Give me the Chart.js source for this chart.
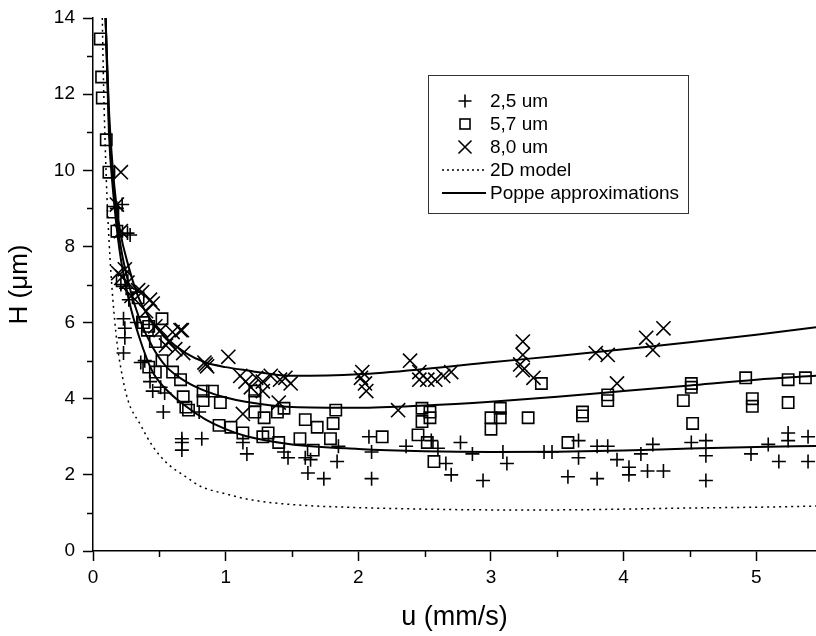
<!DOCTYPE html>
<html><head><meta charset="utf-8">
<script src="https://cdn.jsdelivr.net/npm/chart.js@4/dist/chart.umd.min.js"></script>
<style>html,body{margin:0;padding:0;background:#fff}canvas{display:block}</style>
</head><body>
<canvas id="c" width="816" height="636"></canvas>
<script>
// ---- data ----
const s25U = [0.18,0.22,0.26,0.28,0.21,0.25,0.27,0.23,0.24,0.24,0.23,0.33,0.36,0.39,0.43,0.45,0.51,0.54,0.53,0.67,0.67,0.67,0.82,0.80,1.13,1.16,1.44,1.47,1.60,1.64,1.62,1.74,1.84,1.85,2.08,2.10,2.10,2.36,2.55,2.60,2.66,2.70,2.77,2.86,2.94,3.09,3.12,3.40,3.46,3.66,3.66,3.58,3.80,3.80,3.88,3.95,4.04,4.04,4.13,4.18,4.22,4.30,4.51,4.62,4.62,4.62,4.96,5.09,5.17,5.24,5.24,5.39,5.39];
const s25H = [9.0,9.1,8.35,8.3,7.0,6.9,6.6,6.1,5.85,5.6,5.2,6.0,4.95,5.0,4.45,4.2,4.3,4.15,3.65,2.95,2.85,2.65,2.95,3.65,2.85,2.55,2.6,2.45,2.45,2.4,2.05,1.9,2.35,2.75,3.0,2.6,1.9,2.75,2.9,2.7,2.3,2.0,2.85,2.55,1.85,2.6,2.3,2.6,2.6,2.9,2.45,1.95,2.75,1.9,2.75,2.4,2.2,2.0,2.55,2.1,2.8,2.1,2.85,2.9,2.5,1.85,2.55,2.8,2.35,3.1,2.9,3.0,2.35];

const s57U = [0.055,0.065,0.07,0.10,0.12,0.15,0.18,0.22,0.34,0.38,0.41,0.42,0.52,0.47,0.52,0.42,0.47,0.60,0.66,0.68,0.72,0.70,0.83,0.90,0.83,0.96,0.95,1.04,1.22,1.22,1.22,1.29,1.13,1.32,1.28,1.40,1.44,1.39,1.56,1.60,1.69,1.66,1.79,1.83,1.81,2.18,2.48,2.54,2.54,2.48,2.45,2.52,2.57,3.07,3.07,3.00,3.00,3.28,3.38,3.69,3.69,3.88,3.88,3.58,4.51,4.51,4.45,4.52,4.92,4.97,4.97,5.24,5.24,5.37];
const s57H = [13.45,12.45,11.9,10.8,9.95,8.9,8.4,7.1,6.65,6.0,5.8,5.9,6.1,5.5,5.0,4.83,4.7,4.7,4.5,4.05,3.7,3.78,4.2,4.2,3.95,3.9,3.3,3.25,4.2,3.95,3.65,3.5,3.1,3.1,3.0,2.85,3.75,3.65,2.95,3.45,3.25,2.65,2.95,3.7,3.35,3.0,3.75,3.65,3.5,3.4,3.05,2.85,2.35,3.75,3.5,3.5,3.2,3.5,4.4,3.65,3.55,4.1,3.95,2.85,4.4,4.3,3.95,3.35,4.55,4.0,3.8,4.5,3.9,4.55];

const s80U = [0.21,0.18,0.21,0.19,0.24,0.22,0.26,0.29,0.34,0.37,0.43,0.45,0.40,0.47,0.51,0.57,0.60,0.66,0.67,0.55,0.62,0.68,0.84,0.85,0.86,1.02,1.11,1.15,1.19,1.23,1.28,1.28,1.34,1.41,1.45,1.49,1.40,1.13,2.02,2.03,2.05,2.06,2.39,2.46,2.46,2.52,2.58,2.64,2.70,2.30,3.22,3.24,3.24,3.24,3.32,3.79,3.88,3.95,4.17,4.22,4.30];
const s80H = [9.95,9.1,8.4,7.3,7.4,7.2,7.05,6.7,6.85,6.8,6.6,6.5,6.3,5.9,5.8,5.5,5.75,5.8,5.8,5.4,5.3,5.2,4.95,4.9,4.85,5.1,4.6,4.45,4.3,4.55,4.45,4.2,4.6,4.5,4.55,4.4,3.9,3.6,4.55,4.7,4.4,4.2,5.0,4.7,4.5,4.5,4.5,4.6,4.7,3.7,4.9,5.5,5.15,4.75,4.55,5.2,5.15,4.4,5.6,5.28,5.85];

const curveU  = [0.095,0.12,0.15,0.2,0.27,0.35,0.45,0.55,0.7,0.85,1.0,1.15,1.5,2.0,2.5,3.0,3.5,4.0,4.5,5.0,5.45];
const poppe80 = [14,11.6,10.0,8.5,7.45,6.6,6.0,5.6,5.2,4.95,4.83,4.75,4.6,4.64,4.78,4.96,5.12,5.3,5.48,5.68,5.88];
const poppe57 = [14,11.3,9.8,8.2,7.0,6.1,5.35,4.85,4.45,4.2,4.03,3.92,3.78,3.76,3.82,3.92,4.05,4.2,4.35,4.5,4.6];
const poppe25 = [14,11.0,9.5,7.9,6.6,5.6,4.7,4.25,3.8,3.45,3.2,3.02,2.8,2.68,2.62,2.6,2.61,2.64,2.69,2.73,2.76];

const model2dU = [0.07,0.08,0.1,0.12,0.15,0.18,0.21,0.26,0.36,0.45,0.56,0.7,0.81,1.0,1.2,1.5,2.0,2.5,3.0,3.5,4.0,4.5,5.0,5.45];
const model2dH = [14,12.2,9.8,8.2,6.6,5.5,4.8,4.0,3.3,2.75,2.3,1.95,1.7,1.5,1.34,1.22,1.14,1.1,1.08,1.08,1.1,1.13,1.15,1.18];

const legendLabels = ['2,5 um','5,7 um','8,0 um','2D model','Poppe approximations'];
const xTitle = 'u (mm/s)';
const yTitle = 'H (\u03BCm)';

// ---- build ----
const pts = (xs, ys) => xs.map((x, i) => ({x, y: ys[i]}));
const FONT = '"Liberation Sans", Arial, sans-serif';

const markerDs = (label, xs, ys, style, r) => ({
  label, data: pts(xs, ys), showLine: false,
  pointStyle: style, pointRadius: r, pointHoverRadius: r,
  borderColor: '#000', backgroundColor: 'rgba(0,0,0,0)', pointBorderWidth: 1.6
});
const lineDs = (label, xs, ys, dash, w) => ({
  label, data: pts(xs, ys), showLine: true, pointRadius: 0,
  borderColor: '#000', borderWidth: w, borderDash: dash, fill: false,
  cubicInterpolationMode: 'monotone'
});

const minorTicks = {
  id: 'minorTicks',
  afterDraw(chart) {
    const ctx = chart.ctx, xs = chart.scales.x, ys = chart.scales.y;
    ctx.save();
    ctx.strokeStyle = '#000'; ctx.lineWidth = 1.5;
    xs.ticks.forEach(t => {
      if (Math.abs(t.value % 1) > 1e-6) {
        const p = Math.round(xs.getPixelForValue(t.value)) + 0.5;
        ctx.beginPath(); ctx.moveTo(p, ys.bottom); ctx.lineTo(p, ys.bottom + 6); ctx.stroke();
      }
    });
    ys.ticks.forEach(t => {
      if (Math.abs(t.value % 2) > 1e-6) {
        const p = Math.round(ys.getPixelForValue(t.value)) + 0.5;
        ctx.beginPath(); ctx.moveTo(xs.left, p); ctx.lineTo(xs.left - 6, p); ctx.stroke();
      }
    });
    ctx.restore();
  }
};

const boxLegend = {
  id: 'boxLegend',
  afterDraw(chart) {
    const ctx = chart.ctx;
    ctx.save();
    ctx.strokeStyle = '#333'; ctx.lineWidth = 1;
    ctx.strokeRect(428.5, 75.5, 260, 138);
    ctx.font = '19px ' + FONT; ctx.fillStyle = '#000'; ctx.textBaseline = 'middle';
    const rows = [101, 124, 147, 170, 193];
    const mx = 465;
    ctx.strokeStyle = '#000'; ctx.lineWidth = 1.6;
    // +
    ctx.beginPath(); ctx.moveTo(mx - 6.5, rows[0]); ctx.lineTo(mx + 6.5, rows[0]);
    ctx.moveTo(mx, rows[0] - 6.5); ctx.lineTo(mx, rows[0] + 6.5); ctx.stroke();
    // square
    ctx.strokeRect(mx - 5, rows[1] - 5, 10, 10);
    // x
    ctx.beginPath(); ctx.moveTo(mx - 6.5, rows[2] - 6.5); ctx.lineTo(mx + 6.5, rows[2] + 6.5);
    ctx.moveTo(mx + 6.5, rows[2] - 6.5); ctx.lineTo(mx - 6.5, rows[2] + 6.5); ctx.stroke();
    // dotted
    ctx.setLineDash([2, 3]); ctx.lineWidth = 1.3;
    ctx.beginPath(); ctx.moveTo(442, rows[3]); ctx.lineTo(486, rows[3]); ctx.stroke();
    ctx.setLineDash([]); ctx.lineWidth = 2;
    ctx.beginPath(); ctx.moveTo(442, rows[4]); ctx.lineTo(486, rows[4]); ctx.stroke();
    legendLabels.forEach((t, i) => ctx.fillText(t, 490, rows[i] + 1));
    ctx.restore();
  }
};

new Chart(document.getElementById('c'), {
  type: 'scatter',
  data: {
    datasets: [
      lineDs('Poppe 8,0', curveU, poppe80, [], 2),
      lineDs('Poppe 5,7', curveU, poppe57, [], 2),
      lineDs('Poppe 2,5', curveU, poppe25, [], 2),
      lineDs('2D model', model2dU, model2dH, [2, 4], 1.5),
      markerDs('2,5 um', s25U, s25H, 'cross', 7),
      markerDs('5,7 um', s57U, s57H, 'rect', 8),
      markerDs('8,0 um', s80U, s80H, 'crossRot', 10)
    ]
  },
  options: {
    responsive: false, animation: false, devicePixelRatio: 1,
    layout: { autoPadding: false, padding: { top: 18, right: 0, bottom: 0, left: 0 } },
    plugins: { legend: { display: false }, tooltip: { enabled: false } },
    scales: {
      x: {
        type: 'linear', min: 0, max: 5.45,
        afterFit(s) { s.height = 85; s.paddingRight = 0; s.paddingLeft = 0; },
        border: { display: true, color: '#000', width: 1.5 },
        grid: { display: true, drawOnChartArea: false, drawTicks: true, tickLength: 10, tickWidth: 1.5,
                tickColor: c => (Math.abs(c.tick.value % 1) < 1e-6 ? '#000' : 'rgba(0,0,0,0)') },
        ticks: { stepSize: 0.5, includeBounds: false, autoSkip: false, maxRotation: 0, padding: 5,
                 color: '#000', font: { family: FONT, size: 19 },
                 callback: v => (Math.abs(v % 1) < 1e-6 ? String(v) : '') },
        title: { display: true, text: xTitle, color: '#000', font: { family: FONT, size: 27 }, padding: { top: 0, bottom: 2 } }
      },
      y: {
        type: 'linear', min: 0, max: 14,
        afterFit(s) { s.width = 93; s.paddingTop = 0; s.paddingBottom = 0; },
        border: { display: true, color: '#000', width: 1.5 },
        grid: { display: true, drawOnChartArea: false, drawTicks: true, tickLength: 10, tickWidth: 1.5,
                tickColor: c => (Math.abs(c.tick.value % 2) < 1e-6 ? '#000' : 'rgba(0,0,0,0)') },
        ticks: { stepSize: 1, includeBounds: false, autoSkip: false, padding: 8,
                 color: '#000', font: { family: FONT, size: 19 },
                 callback: v => (Math.abs(v % 2) < 1e-6 ? String(v) : '') },
        title: { display: true, text: yTitle, color: '#000', font: { family: FONT, size: 26 }, padding: { top: 4, bottom: 0 } }
      }
    }
  },
  plugins: [minorTicks, boxLegend]
});
</script>
</body></html>
